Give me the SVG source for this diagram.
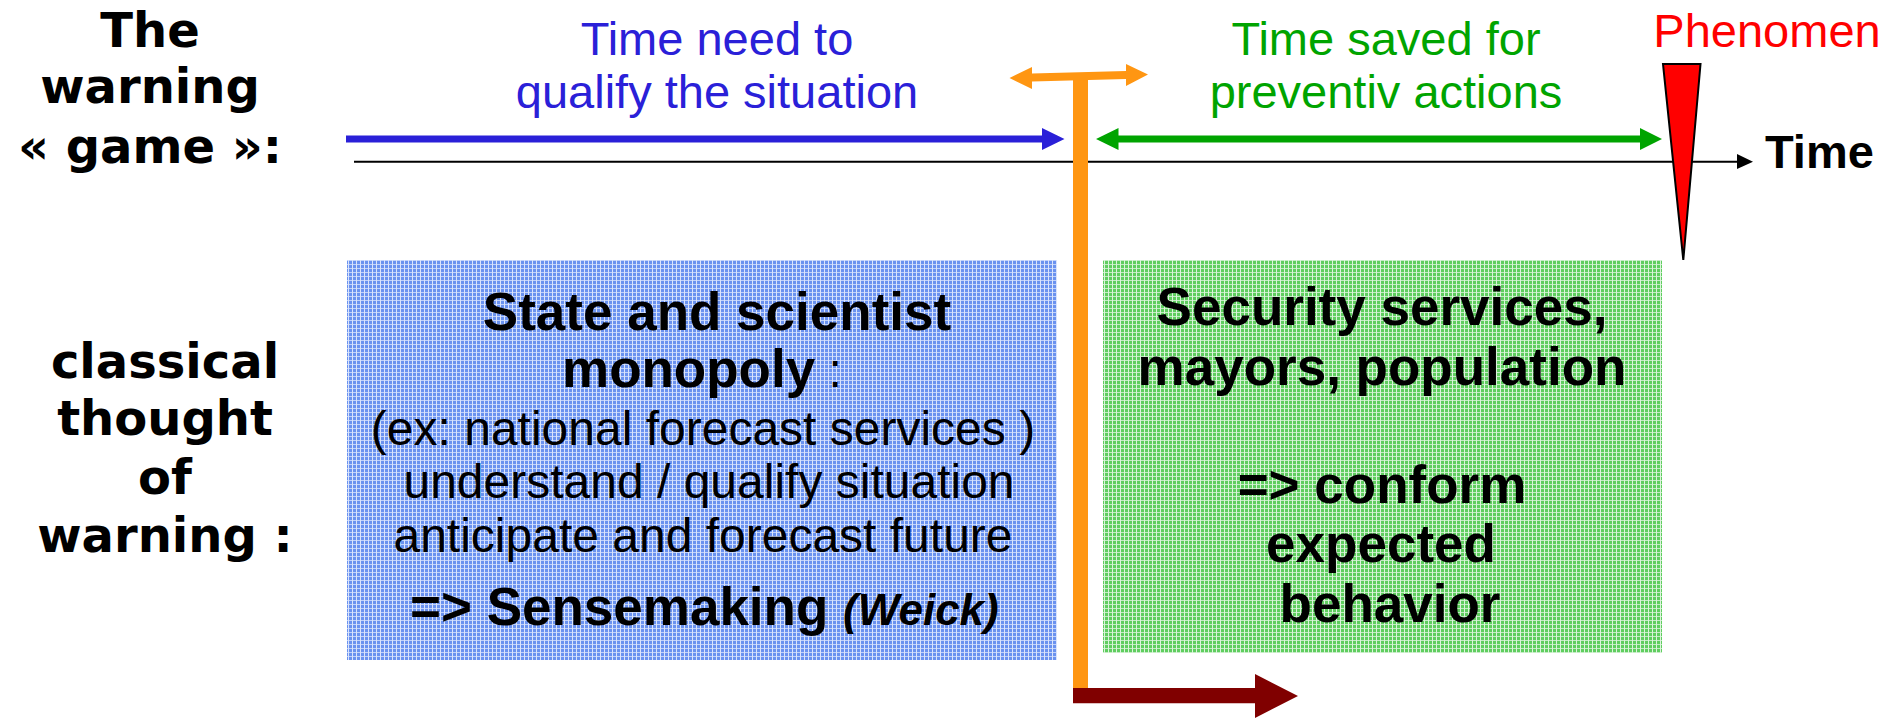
<svg xmlns="http://www.w3.org/2000/svg" width="1899" height="720" viewBox="0 0 1899 720">
<style>
.lbl{font-family:"DejaVu Sans",Verdana,sans-serif;font-weight:bold;font-size:48px;fill:#000;text-anchor:middle}
.top{font-family:"Liberation Sans",Arial,sans-serif;font-size:47px;text-anchor:middle}
.bx{font-family:"Liberation Sans",Arial,sans-serif;fill:#000}
.b{font-weight:bold;font-size:53px}
.r{font-size:48px}
.mid{text-anchor:middle}
</style>
<defs>
<pattern id="pb" width="4" height="4" patternUnits="userSpaceOnUse">
<rect width="4" height="4" fill="#6a92ef"/>
<rect x="0" y="0" width="4" height="1" fill="#c0d1fa"/>
<rect x="0" y="0" width="1" height="4" fill="#dae4fc"/>
</pattern>
<pattern id="pg" width="4" height="4" patternUnits="userSpaceOnUse">
<rect width="4" height="4" fill="#5fcd5f"/>
<rect x="0" y="0" width="4" height="1" fill="#c2ecc2"/>
<rect x="0" y="0" width="1" height="4" fill="#dcf4dc"/>
</pattern>
</defs>

<g id="label-game">
<text class="lbl" x="150" y="47">The</text>
<text class="lbl" x="150" y="103">warning</text>
<text class="lbl" x="150" y="163">« game »:</text>
</g>

<g id="label-classical">
<text class="lbl" x="165" y="378">classical</text>
<text class="lbl" x="165" y="435">thought</text>
<text class="lbl" x="165" y="494">of</text>
<text class="lbl" x="165" y="552">warning :</text>
</g>

<g id="box-state">
<rect x="347" y="260" width="710" height="400" fill="url(#pb)"/>
<text class="bx b mid" x="717" y="330">State and scientist</text>
<text class="bx" x="562" y="387"><tspan class="b">monopoly</tspan><tspan class="r"> :</tspan></text>
<text class="bx r mid" x="703" y="445">(ex: national forecast services )</text>
<text class="bx r mid" x="709" y="498">understand / qualify situation</text>
<text class="bx r mid" x="703" y="552">anticipate and forecast future</text>
<text class="bx" x="410" y="625"><tspan class="b">=&gt; Sensemaking </tspan><tspan font-weight="bold" font-style="italic" font-size="44">(Weick)</tspan></text>
</g>

<g id="box-security">
<rect x="1103" y="260" width="559" height="393" fill="url(#pg)"/>
<text class="bx b mid" x="1382" y="325">Security services,</text>
<text class="bx b mid" x="1382" y="385">mayors, population</text>
<text class="bx b mid" x="1382" y="503">=&gt; conform</text>
<text class="bx b mid" x="1381" y="562">expected</text>
<text class="bx b mid" x="1390" y="622">behavior</text>
</g>

<g id="label-qualify">
<text class="top" x="717" y="55" fill="#2a20d8">Time need to</text>
<text class="top" x="717" y="108" fill="#2a20d8">qualify the situation</text>
</g>

<g id="label-saved">
<text class="top" x="1386" y="55" fill="#00a400">Time saved for</text>
<text class="top" x="1386" y="108" fill="#00a400">preventiv actions</text>
</g>

<g id="label-time">
<text x="1765" y="168" font-family="Liberation Sans, Arial, sans-serif" font-weight="bold" font-size="47" fill="#000">Time</text>
</g>

<g id="connectors">
<line x1="354" y1="161.7" x2="1740" y2="161.7" stroke="#000" stroke-width="2"/>
<polygon points="1737,154 1753,161.7 1737,169" fill="#000"/>
<polygon points="346,135.5 1042,135.5 1042,128 1064.5,139 1042,150 1042,142.5 346,142.5" fill="#2a20d8"/>
<polygon points="1096,139 1118.5,128 1118.5,135.5 1640,135.5 1640,128 1662,139 1640,150 1640,142.5 1118.5,142.5 1118.5,150" fill="#00a400"/>
<rect x="1073" y="75" width="15" height="621" fill="#ff9612"/>
<polygon points="1009.5,78 1032,67 1032,73.5 1126,71 1126,64 1148,74.5 1126,86 1126,79 1032,81.5 1032,89" fill="#ff9612"/>
<polygon points="1073,688 1255,688 1255,674 1298,696 1255,718 1255,703.3 1073,703.3" fill="#800000"/>
</g>

<g id="phenomen">
<polygon points="1663,64 1700.5,64 1683.3,260" fill="#ff0000" stroke="#000" stroke-width="2" stroke-linejoin="miter"/>
<text class="top" x="1767" y="47" fill="#ff0000">Phenomen</text>
</g>
</svg>
